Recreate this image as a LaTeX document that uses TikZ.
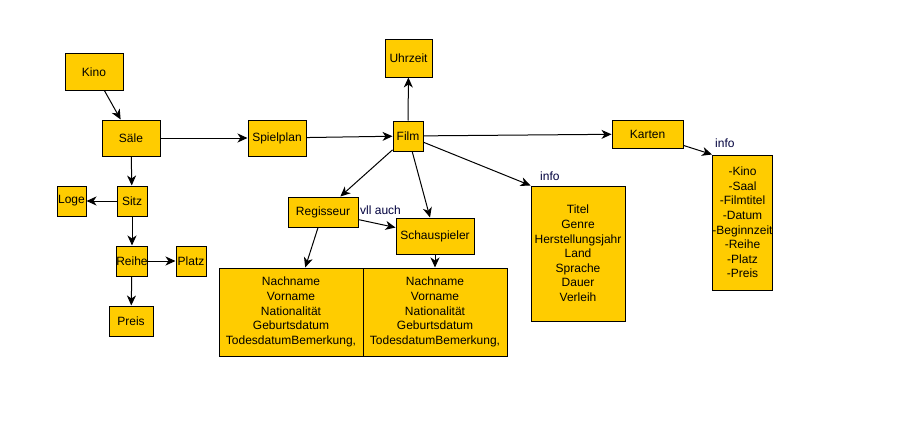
\documentclass[tikz,border=0pt]{standalone}
\usepackage{fontspec}
\setmainfont{Liberation Sans}
\usetikzlibrary{arrows.meta}
\definecolor{kinogelb}{HTML}{FFCC00}
\definecolor{notiz}{HTML}{00003D}
\tikzset{
  box/.style={draw, fill=kinogelb, line width=1pt, inner sep=0pt, align=center,
    font=\fontsize{12pt}{14.6pt}\selectfont},
  pfeil/.style={line width=1pt, -{Stealth[length=10pt, width=9pt, inset=3pt]}},
  notiztext/.style={text=notiz, inner sep=0pt, font=\fontsize{12pt}{14.6pt}\selectfont}
}
\begin{document}
\begin{tikzpicture}[x=1pt, y=-1pt]
        \useasboundingbox (0,0) rectangle (901,428);
        \node[box, minimum width=58, minimum height=36] (kino) at (94,72) {Kino};
        \node[box, minimum width=58, minimum height=36] (saele) at (131,138) {Säle};
        \node[box, minimum width=58, minimum height=36] (spielplan) at (277,138) {Spielplan};
        \node[box, minimum width=30, minimum height=30] (sitz) at (132,201) {Sitz};
        \node[box, minimum width=29, minimum height=30] (loge) at (71.5,201) {Loge};
        \node[box, minimum width=30, minimum height=30] (reihe) at (132,261) {Reihe};
        \node[box, minimum width=30, minimum height=30] (platz) at (191,261) {Platz};
        \node[box, minimum width=44, minimum height=30] (preis) at (131,321) {Preis};
        \node[box, minimum width=47, minimum height=37] (uhrzeit) at (408.5,58.5) {Uhrzeit};
        \node[box, minimum width=30, minimum height=30] (film) at (408,136) {Film};
        \node[box, minimum width=71, minimum height=28] (karten) at (647.5,134) {Karten};
        \node[box, minimum width=70, minimum height=30] (regisseur) at (323,212) {Regisseur};
        \node[box, minimum width=78, minimum height=36] (schauspieler) at (435,236) {Schauspieler};
        \node[box, minimum width=144, minimum height=88] (regdaten) at (291,312)
          {Nachname\\Vorname\\Nationalität\\Geburtsdatum\\TodesdatumBemerkung,};
        \node[box, minimum width=144, minimum height=88] (schaudaten) at (435,312)
          {Nachname\\Vorname\\Nationalität\\Geburtsdatum\\TodesdatumBemerkung,};
        \node[box, minimum width=94, minimum height=135] (filminfo) at (578,253.5)
          {Titel\\Genre\\Herstellungsjahr\\Land\\Sprache\\Dauer\\Verleih};
        \node[box, minimum width=59, minimum height=135] (karteninfo) at (742.5,222.5)
          {-Kino\\-Saal\\-Filmtitel\\-Datum\\-Beginnzeit\\-Reihe\\-Platz\\-Preis};
        \node[notiztext, anchor=west] (vll) at (360,210) {vll auch};
        \node[notiztext, anchor=west] (info1) at (540,176) {info};
        \node[notiztext, anchor=west] (info2) at (715,143) {info};
        \draw[pfeil] (kino) -- (saele);
        \draw[pfeil] (saele) -- (spielplan);
        \draw[pfeil] (saele) -- (sitz);
        \draw[pfeil] (sitz) -- (loge);
        \draw[pfeil] (sitz) -- (reihe);
        \draw[pfeil] (reihe) -- (platz);
        \draw[pfeil] (reihe) -- (preis);
        \draw[pfeil] (spielplan) -- (film);
        \draw[pfeil] (film) -- (uhrzeit);
        \draw[pfeil] (film) -- (karten);
        \draw[pfeil] (film) -- (filminfo.north west);
        \draw[pfeil] (film) -- (regisseur);
        \draw[pfeil] (film) -- (schauspieler);
        \draw[pfeil] (regisseur) -- (schauspieler);
        \draw[pfeil] (regisseur) -- (regdaten);
        \draw[pfeil] (schauspieler) -- (schaudaten);
        \draw[pfeil] (karten) -- (karteninfo.north west);
    \end{tikzpicture}
\end{document}
